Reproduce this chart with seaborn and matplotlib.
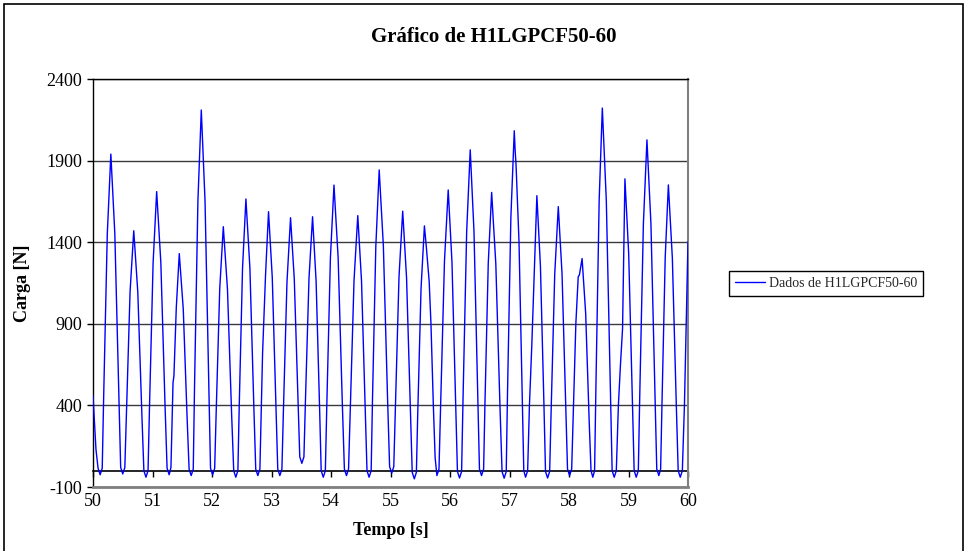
import matplotlib
matplotlib.use("Agg")
import matplotlib.pyplot as plt
import seaborn as sns
import pandas as pd
from matplotlib.patches import Rectangle

# Load record H1LGPCF50-60, window 50 s .. 60 s (one row per load cycle)
tempo = [
    50.00, 50.05, 50.085,
    50.12, 50.155, 50.18, 50.24, 50.30, 50.367, 50.433, 50.465,
    50.50, 50.535, 50.562, 50.623, 50.685, 50.753, 50.822, 50.855,
    50.89, 50.925, 50.95, 51.01, 51.07, 51.14, 51.21, 51.245,
    51.28, 51.31, 51.345, 51.36, 51.40, 51.45, 51.517, 51.583, 51.615,
    51.65, 51.685, 51.707, 51.763, 51.82, 51.883, 51.947, 51.975,
    52.01, 52.045, 52.07, 52.13, 52.19, 52.26, 52.33, 52.365,
    52.40, 52.435, 52.457, 52.513, 52.57, 52.637, 52.703, 52.735,
    52.77, 52.805, 52.85, 52.90, 52.95, 53.013, 53.077, 53.105,
    53.14, 53.175, 53.20, 53.26, 53.32, 53.383, 53.447, 53.475,
    53.51, 53.545, 53.57, 53.63, 53.69, 53.75, 53.81, 53.835,
    53.87, 53.905, 53.93, 53.99, 54.05, 54.12, 54.19, 54.225,
    54.26, 54.295, 54.323, 54.387, 54.45, 54.513, 54.577, 54.605,
    54.64, 54.675, 54.697, 54.753, 54.81, 54.88, 54.95, 54.985,
    55.02, 55.055, 55.082, 55.143, 55.205, 55.27, 55.335, 55.365,
    55.40, 55.435, 55.457, 55.513, 55.57, 55.60, 55.65, 55.68, 55.72, 55.75,
    55.78, 55.815, 55.843, 55.907, 55.97, 56.033, 56.097, 56.125,
    56.16, 56.195, 56.22, 56.28, 56.34, 56.403, 56.467, 56.495,
    56.53, 56.565, 56.587, 56.643, 56.70, 56.77, 56.84, 56.875,
    56.91, 56.945, 56.967, 57.023, 57.08, 57.095, 57.11, 57.16, 57.215, 57.24,
    57.27, 57.305, 57.335, 57.375, 57.42, 57.46, 57.52, 57.58, 57.605,
    57.64, 57.675, 57.70, 57.76, 57.82, 57.883, 57.947, 57.975,
    58.01, 58.045, 58.075, 58.115, 58.155, 58.175, 58.22, 58.28, 58.34, 58.37,
    58.40, 58.43, 58.453, 58.507, 58.56, 58.627, 58.693, 58.725,
    58.76, 58.795, 58.83, 58.865, 58.90, 58.94, 59.003, 59.067, 59.095,
    59.13, 59.165, 59.19, 59.25, 59.31, 59.377, 59.443, 59.475,
    59.51, 59.54, 59.563, 59.617, 59.67, 59.737, 59.803, 59.835,
    59.87, 59.905, 59.94, 59.97, 60.00,
]
carga = [
    460, 130, 15,
    -25, 15, 466, 1449, 1940, 1450, 470, 20,
    -20, 20, 352, 1097, 1470, 1093, 338, 0,
    -40, 0, 397, 1272, 1710, 1276, 409, 15,
    -25, 20, 540, 580, 1000, 1330, 990, 310, 10,
    -30, 10, 530, 1650, 2210, 1651, 534, 15,
    -25, 15, 355, 1115, 1495, 1111, 344, 0,
    -40, 0, 386, 1239, 1665, 1241, 394, 10,
    -30, 10, 720, 1200, 1587, 1183, 374, 10,
    -30, 10, 365, 1155, 1550, 1174, 421, 85,
    45, 85, 423, 1178, 1556, 1157, 359, 0,
    -40, 0, 408, 1303, 1750, 1305, 415, 10,
    -30, 10, 368, 1165, 1563, 1162, 361, 0,
    -40, 0, 431, 1372, 1843, 1378, 449, 25,
    -15, 25, 386, 1189, 1590, 1180, 360, -10,
    -50, -10, 338, 1113, 1500, 1380, 1160, 900, 400, 80,
    -30, 10, 408, 1283, 1720, 1279, 396, -5,
    -45, -5, 458, 1463, 1966, 1467, 469, 10,
    -30, 10, 404, 1271, 1705, 1267, 392, -6,
    -46, -6, 486, 1551, 2083, 1960, 1874, 1400, 440, 0,
    -40, 0, 400, 770, 1250, 1685, 1252, 387, -5,
    -45, -5, 371, 1202, 1618, 1206, 382, 10,
    -30, 10, 400, 900, 1188, 1200, 1300, 965, 295, 0,
    -40, 0, 526, 1657, 2222, 1656, 525, 0,
    -40, 0, 400, 650, 870, 1788, 1331, 417, 0,
    -40, 0, 477, 1510, 2027, 1513, 484, 10,
    -30, 10, 415, 1306, 1751, 1303, 408, 0,
    -40, 0, 400, 900, 1403,
]

x_ticks = list(range(50, 61))
y_ticks = [-100, 400, 900, 1400, 1900, 2400]
titulo = "Gráfico de H1LGPCF50-60"
serie = "Dados de H1LGPCF50-60"

sns.set_theme(style="white")
plt.rcParams["font.family"] = ["Liberation Serif", "DejaVu Serif"]
plt.rcParams["axes.unicode_minus"] = False

fig = plt.figure(figsize=(9.77, 5.51), dpi=100)
fig.patch.set_facecolor("white")
ax = fig.add_axes([93 / 977, 1 - 487 / 551, (688 - 93) / 977, (487 - 79) / 551])

df = pd.DataFrame({"Tempo [s]": tempo, "Carga [N]": carga})
sns.lineplot(data=df, x="Tempo [s]", y="Carga [N]", ax=ax, color="#0000FF",
             lw=1.0, label=serie, legend=False, zorder=3)

ax.set_xlim(50, 60)
ax.set_ylim(-100, 2400)
ax.set_xticks(x_ticks)
ax.set_yticks(y_ticks)
ax.tick_params(axis="x", length=0, pad=4, labelsize=13, colors="black")
ax.tick_params(axis="y", left=True, length=4, width=1, direction="out",
               pad=4, labelsize=13, colors="black")
ax.grid(axis="y", color="#3a3a3a", lw=1.0, zorder=1)
ax.grid(axis="x", visible=False)

ax.spines["left"].set_color("black")
ax.spines["left"].set_linewidth(1.0)
ax.spines["top"].set_color("black")
ax.spines["top"].set_linewidth(1.0)
ax.spines["right"].set_color("#808080")
ax.spines["right"].set_linewidth(1.5)
ax.spines["bottom"].set_color("#808080")
ax.spines["bottom"].set_linewidth(2.0)

# Category axis crossing at zero with its tick marks
sec = ax.secondary_xaxis((0 - (-100)) / 2500)
sec.set_xticks(x_ticks)
sec.tick_params(axis="x", direction="out", length=4, width=1, colors="black",
                labelbottom=False, labeltop=False)
for sp in sec.spines.values():
    sp.set_color("black")
    sp.set_linewidth(1.2)

ax.set_xlabel("Tempo [s]", fontsize=13, fontweight="bold", color="black")
ax.set_ylabel("Carga [N]", fontsize=13, fontweight="bold", color="black")
ax.xaxis.set_label_coords(0.5, -0.085)
ax.yaxis.set_label_coords(-0.104, 0.5)

fig.text(0.505, 0.933, titulo, ha="center", va="center", fontsize=15,
         fontweight="bold", color="black")

handles, labels = ax.get_legend_handles_labels()
leg = fig.legend(handles, labels, loc="center", bbox_to_anchor=(826 / 977, 1 - 283.5 / 551),
                 frameon=True, fancybox=False, shadow=False, edgecolor="black",
                 framealpha=1, fontsize=10, handlelength=2.2, handletextpad=0.3,
                 borderpad=0.4)
leg.get_frame().set_linewidth(1.0)

# Chart area border
fig.patches.append(Rectangle((4 / 977, -0.05), (963 - 4) / 977, 1 - 4 / 551 + 0.05,
                             transform=fig.transFigure, fill=False,
                             edgecolor="black", lw=1.2, zorder=0))

fig.savefig("out.png", dpi=100, facecolor="white")
